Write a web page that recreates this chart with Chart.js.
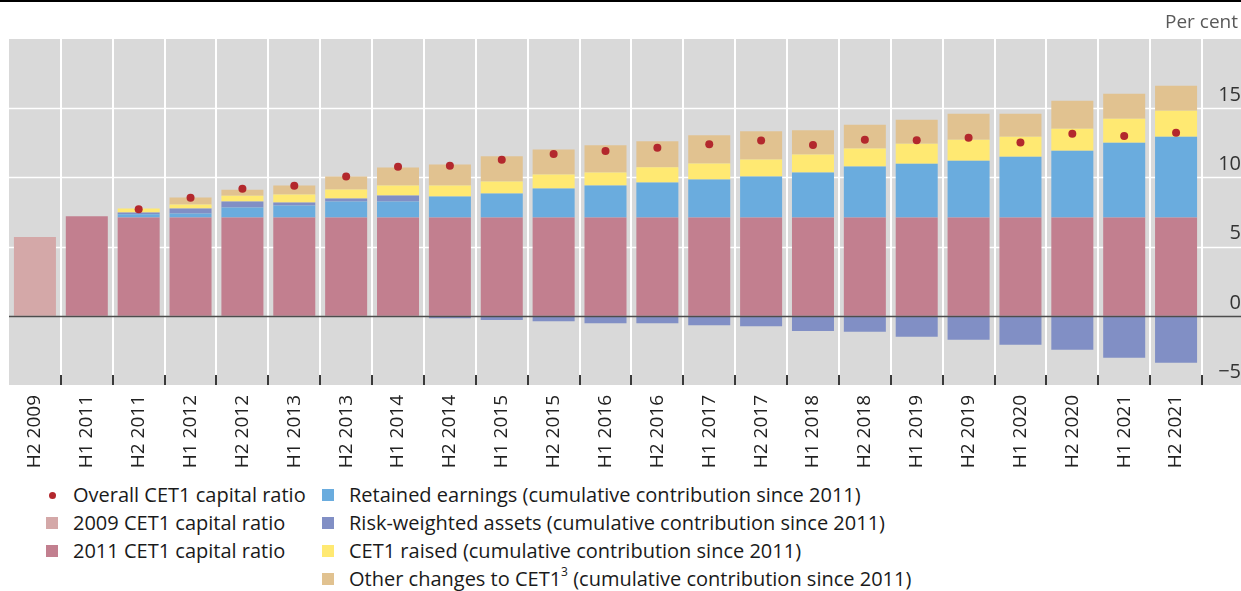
<!DOCTYPE html>
<html>
<head>
<meta charset="utf-8">
<script src="https://cdn.jsdelivr.net/npm/chart.js@4.4.0/dist/chart.umd.min.js"></script>
<style>
  html, body { margin: 0; padding: 0; background: #fff; }
  #wrap { position: relative; width: 1241px; height: 591px; overflow: hidden; font-family: 'Open Sans', sans-serif; }
  #topline { position: absolute; left: 0; top: 0; width: 1241px; height: 2px; background: #000; }
  #unit { position: absolute; right: 3px; top: 8px; font-size: 19px; color: #595959; line-height: 26px; }
  canvas { position: absolute; left: 0; top: 0; }
  .item { position: absolute; font-size: 20px; color: #1a1a1a; line-height: 28px; white-space: nowrap; }
  .sw { position: absolute; width: 12px; height: 12px; }
  .dot { position: absolute; width: 7px; height: 7px; border-radius: 50%; background: #B3282D; }
  sup { font-size: 12px; line-height: 0; position: relative; top: -2px; }
</style>
</head>
<body>
<div id="wrap">
  <canvas id="c" width="1241" height="475"></canvas>
  <div id="topline"></div>
  <div id="unit">Per cent</div>
  <div id="legend"></div>
</div>
<script>
const categories = ['H2 2009','H1 2011','H2 2011','H1 2012','H2 2012','H1 2013','H2 2013','H1 2014','H2 2014','H1 2015','H2 2015','H1 2016','H2 2016','H1 2017','H2 2017','H1 2018','H2 2018','H1 2019','H2 2019','H1 2020','H2 2020','H1 2021','H2 2021'];
const ratio2009 = [5.7, null, null, null, null, null, null, null, null, null, null, null, null, null, null, null, null, null, null, null, null, null, null];
const ratio2011 = [null, 7.2, 7.1, 7.1, 7.1, 7.1, 7.1, 7.1, 7.1, 7.1, 7.1, 7.1, 7.1, 7.1, 7.1, 7.1, 7.1, 7.1, 7.1, 7.1, 7.1, 7.1, 7.1];
const retainedEarnings = [null, null, 0.24, 0.29, 0.72, 0.87, 1.16, 1.16, 1.52, 1.74, 2.10, 2.32, 2.54, 2.75, 2.97, 3.26, 3.68, 3.89, 4.11, 4.40, 4.83, 5.41, 5.84];
const riskWeightedAssets = [null, null, 0.12, 0.36, 0.43, 0.22, 0.22, 0.43, -0.17, -0.31, -0.39, -0.53, -0.53, -0.68, -0.75, -1.10, -1.15, -1.51, -1.73, -2.09, -2.45, -3.03, -3.39];
const cet1Raised = [null, null, 0.29, 0.29, 0.43, 0.58, 0.65, 0.72, 0.80, 0.87, 1.01, 0.94, 1.09, 1.16, 1.23, 1.30, 1.30, 1.44, 1.51, 1.44, 1.59, 1.73, 1.88];
const otherChanges = [null, null, 0, 0.51, 0.43, 0.65, 0.94, 1.30, 1.52, 1.81, 1.81, 1.96, 1.88, 2.03, 2.03, 1.74, 1.73, 1.73, 1.88, 1.66, 2.02, 1.80, 1.80];
const overallRatio = [null, null, 7.70, 8.53, 9.18, 9.40, 10.07, 10.77, 10.85, 11.28, 11.69, 11.90, 12.15, 12.39, 12.66, 12.35, 12.72, 12.69, 12.86, 12.52, 13.15, 13.00, 13.22];
const yTicks = { min: -5, max: 20, step: 5 };

const COLORS = {
  r2009: '#D4A8A8', r2011: '#C27F8F', retained: '#6AACDE', rwa: '#818FC5',
  raised: '#FFE972', other: '#E1C290', dot: '#B3282D', bg: '#D9D9D9'
};

const legendItems = [
  { col: 0, row: 0, type: 'dot', color: COLORS.dot, html: 'Overall CET1 capital ratio' },
  { col: 0, row: 1, type: 'sq', color: COLORS.r2009, html: '2009 CET1 capital ratio' },
  { col: 0, row: 2, type: 'sq', color: COLORS.r2011, html: '2011 CET1 capital ratio' },
  { col: 1, row: 0, type: 'sq', color: COLORS.retained, html: 'Retained earnings (cumulative contribution since 2011)' },
  { col: 1, row: 1, type: 'sq', color: COLORS.rwa, html: 'Risk-weighted assets (cumulative contribution since 2011)' },
  { col: 1, row: 2, type: 'sq', color: COLORS.raised, html: 'CET1 raised (cumulative contribution since 2011)' },
  { col: 1, row: 3, type: 'sq', color: COLORS.other, html: 'Other changes to CET1<sup>3</sup> (cumulative contribution since 2011)' }
];
const leg = document.getElementById('legend');
const colX = [{ m: 46, t: 73 }, { m: 322, t: 349 }];
legendItems.forEach(it => {
  const cy = 495 + it.row * 28;
  const mk = document.createElement('div');
  if (it.type === 'dot') {
    mk.className = 'dot';
    mk.style.left = (colX[it.col].m + 2.5) + 'px';
    mk.style.top = (cy - 3.5) + 'px';
  } else {
    mk.className = 'sw';
    mk.style.left = colX[it.col].m + 'px';
    mk.style.top = (cy - 6) + 'px';
    mk.style.background = it.color;
  }
  leg.appendChild(mk);
  const tx = document.createElement('div');
  tx.className = 'item';
  tx.style.left = colX[it.col].t + 'px';
  tx.style.top = (cy - 14) + 'px';
  tx.innerHTML = it.html;
  leg.appendChild(tx);
});

function boundaryX(scales, i) {
  const n = categories.length;
  if (i < n) return (scales.x.getPixelForValue(i - 1) + scales.x.getPixelForValue(i)) / 2;
  const step = scales.x.getPixelForValue(1) - scales.x.getPixelForValue(0);
  return scales.x.getPixelForValue(n - 1) + step / 2;
}

const backgroundPlugin = {
  id: 'bgGrid',
  beforeDraw(chart) {
    const { ctx, chartArea, scales } = chart;
    const W = chart.width;
    ctx.save();
    ctx.fillStyle = COLORS.bg;
    ctx.fillRect(chartArea.left, chartArea.top, W - chartArea.left, chartArea.bottom - chartArea.top);
    ctx.strokeStyle = '#ffffff';
    ctx.lineWidth = 1.5;
    for (let v = yTicks.min + yTicks.step; v < yTicks.max; v += yTicks.step) {
      if (v === 0) continue;
      const y = Math.round(scales.y.getPixelForValue(v)) + 0.5;
      ctx.beginPath(); ctx.moveTo(chartArea.left, y); ctx.lineTo(W, y); ctx.stroke();
    }
    ctx.lineWidth = 2;
    for (let i = 1; i <= categories.length; i++) {
      const x = Math.round(boundaryX(scales, i));
      ctx.beginPath(); ctx.moveTo(x, chartArea.top); ctx.lineTo(x, chartArea.bottom); ctx.stroke();
    }
    ctx.restore();
  },
  afterDatasetsDraw(chart) {
    const { ctx, chartArea, scales } = chart;
    const W = chart.width;
    ctx.save();
    const y0 = Math.round(scales.y.getPixelForValue(0)) + 0.5;
    ctx.strokeStyle = '#4d4d4d';
    ctx.lineWidth = 1.5;
    ctx.beginPath(); ctx.moveTo(chartArea.left, y0); ctx.lineTo(W, y0); ctx.stroke();
    ctx.strokeStyle = '#3a3a3a';
    ctx.lineWidth = 2;
    for (let i = 1; i <= categories.length; i++) {
      const x = Math.round(boundaryX(scales, i));
      ctx.beginPath(); ctx.moveTo(x, chartArea.bottom - 10); ctx.lineTo(x, chartArea.bottom); ctx.stroke();
    }
    ctx.restore();
  }
};

const barCommon = { stack: 'bars', order: 1, barPercentage: 0.81, categoryPercentage: 1.0, borderWidth: 0 };

new Chart(document.getElementById('c'), {
  type: 'bar',
  data: {
    labels: categories,
    datasets: [
      { label: 'Overall CET1 capital ratio', type: 'line', data: overallRatio, stack: 'overall', order: 0,
        showLine: false, pointRadius: 4, pointHoverRadius: 4, pointBackgroundColor: COLORS.dot, pointBorderWidth: 0, borderColor: COLORS.dot },
      Object.assign({ label: '2009 CET1 capital ratio', data: ratio2009, backgroundColor: COLORS.r2009 }, barCommon),
      Object.assign({ label: '2011 CET1 capital ratio', data: ratio2011, backgroundColor: COLORS.r2011 }, barCommon),
      Object.assign({ label: 'Retained earnings', data: retainedEarnings, backgroundColor: COLORS.retained }, barCommon),
      Object.assign({ label: 'Risk-weighted assets', data: riskWeightedAssets, backgroundColor: COLORS.rwa }, barCommon),
      Object.assign({ label: 'CET1 raised', data: cet1Raised, backgroundColor: COLORS.raised }, barCommon),
      Object.assign({ label: 'Other changes to CET1', data: otherChanges, backgroundColor: COLORS.other }, barCommon)
    ]
  },
  options: {
    responsive: false,
    animation: false,
    layout: { padding: { left: 9, top: 39, right: 0, bottom: 0 } },
    plugins: { legend: { display: false }, tooltip: { enabled: false } },
    scales: {
      x: {
        stacked: true, offset: true,
        grid: { display: false, drawTicks: false }, border: { display: false },
        ticks: { autoSkip: false, minRotation: 90, maxRotation: 90, padding: 10, color: '#222',
                 font: { family: 'Open Sans', size: 19 } },
        afterFit: s => { s.height = 90; }
      },
      y: {
        position: 'right', stacked: true, min: yTicks.min, max: yTicks.max,
        grid: { display: false, drawTicks: false }, border: { display: false },
        ticks: { stepSize: yTicks.step, padding: 13, crossAlign: 'far', labelOffset: -13, color: '#333',
                 font: { family: 'Open Sans', size: 20 },
                 callback: v => v === yTicks.max ? '' : String(v).replace('-', '\u2212') },
        afterFit: s => { s.width = 39; }
      }
    }
  },
  plugins: [backgroundPlugin]
});
</script>
</body>
</html>
